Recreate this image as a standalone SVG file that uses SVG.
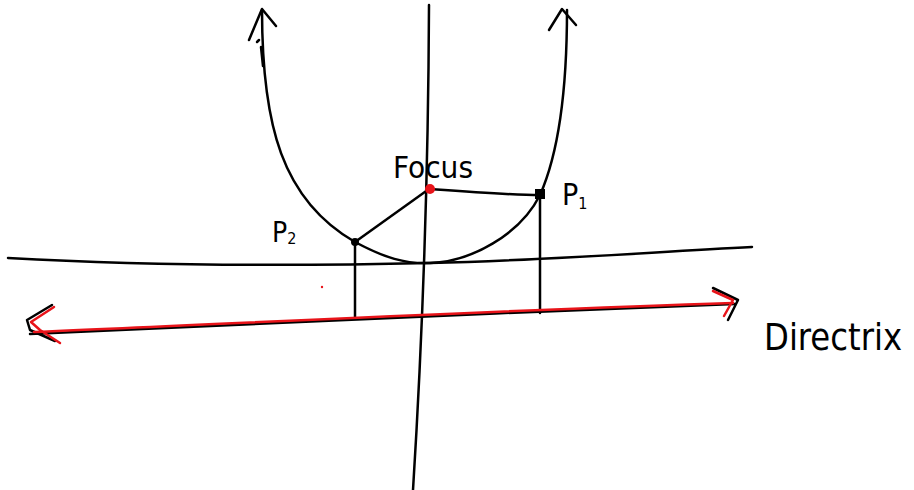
<svg xmlns="http://www.w3.org/2000/svg" width="914" height="490" viewBox="0 0 914 490">
<style>
.k{fill:none;stroke:#000;stroke-width:2.5;stroke-linecap:round;stroke-linejoin:round}
.r{fill:none;stroke:#e8141a;stroke-width:2.5;stroke-linecap:round;stroke-linejoin:round}
.t{font-family:"DejaVu Sans Condensed","DejaVu Sans",sans-serif;fill:#000}
</style>
<rect width="914" height="490" fill="#fff"/>
<g id="axes">
<path class="k" d="M429 5 Q 428 250 413 490"/>
<path class="k" d="M8 258 C 150 266 300 266 430 263 S 650 252 752 247"/>
</g>
<g id="parabola">
<path class="k" d="M262 10 C 262 125 282 200 355 242 C 385 258 405 264 430 263 C 470 262 520 235 540 195 C 560 150 567 80 567 10"/>
<path class="k" d="M249 40 L 262 9 L 276 26"/>
<path class="k" d="M257 42 L 259 40 M261 47 L 263 66"/>
<path class="k" d="M549 30 L 562 9 L 576 25"/>
</g>
<g id="connectors">
<path class="k" d="M429 189 L 355 242"/>
<path class="k" d="M429 189 C 470 192 510 195 540 195"/>
<path class="k" d="M355 242 L 355 318"/>
<path class="k" d="M540 195 L 540 313"/>
</g>
<g id="directrix">
<path class="k" d="M30 334 C 250 325 500 312 735 304"/>
<path class="k" d="M52 305 L 27 320 L 30 330 L 55 341"/>
<path class="k" d="M713 288 L 738 300 L 728 320"/>
<path class="r" d="M34 332 C 250 323 500 310 733 303"/>
<path class="r" d="M54 307 L 31 322 L 40 330 L 60 343"/>
<path class="r" d="M713 291 L 733 300 L 724 316"/>
</g>
<g id="focus">
<circle cx="430" cy="189" r="5" fill="#e8141a"/>
<text class="t" x="393" y="178" font-size="30" textLength="80" lengthAdjust="spacingAndGlyphs">Focus</text>
</g>
<g id="p1">
<rect x="535" y="189" width="10" height="10" fill="#000"/>
<text class="t" x="562" y="205" font-size="30">P<tspan font-size="16" dy="4">1</tspan></text>
</g>
<g id="p2">
<circle cx="355" cy="242" r="4" fill="#000"/>
<text class="t" x="272" y="242" font-size="28">P<tspan font-size="16" dy="2">2</tspan></text>
</g>
<circle cx="322" cy="287" r="1.2" fill="#e8141a"/>
<text class="t" x="764" y="350" font-size="38" textLength="138" lengthAdjust="spacingAndGlyphs">Directrix</text>
</svg>
